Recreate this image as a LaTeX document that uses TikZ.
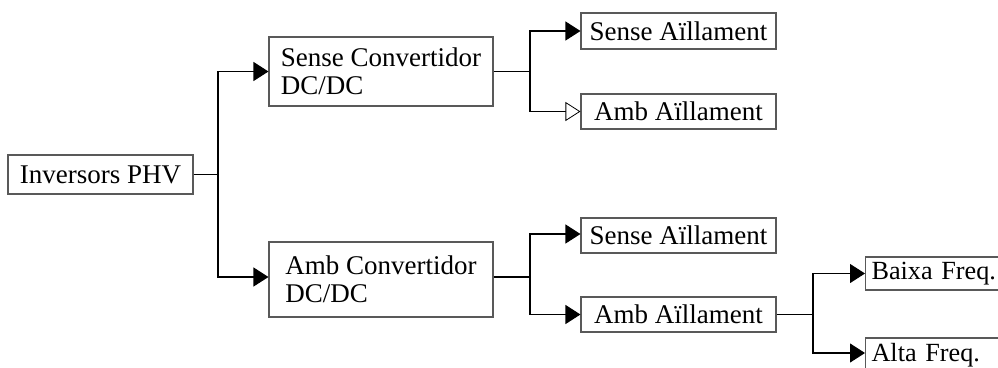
\documentclass[tikz,border=0pt]{standalone}
\usepackage{fontspec}
\setmainfont{Liberation Serif}
\usetikzlibrary{arrows.meta}
\begin{document}
\begin{tikzpicture}[x=1pt,y=-1pt,
  box/.style={draw=black!65, line width=1.1pt, rectangle, inner sep=0pt,
    font=\fontsize{27}{28}\selectfont, align=left},
  endbox/.style={box, anchor=west, inner xsep=6pt, text width=150pt,
    font=\fontsize{26.2}{28}\selectfont},
  conn/.style={draw=black, line width=1.1pt},
  arr/.style={conn, -{Triangle[length=15pt,width=19pt]}},
  oarr/.style={conn, -{Triangle[open,length=15pt,width=19pt,line width=0.8pt,fill=white]}},
]
\useasboundingbox (0,0) rectangle (998,367);
\clip (0,0) rectangle (998,367);
% boxes
\node[box, minimum width=185pt, minimum height=39pt] (inv) at (100.5,174.5) {Inversors PHV};
\node[box, minimum width=224pt, minimum height=69pt] (sc) at (381,71.5) {Sense Convertidor\\DC/DC};
\node[box, minimum width=224pt, minimum height=75pt] (ac) at (381,279.5) {Amb Convertidor\\DC/DC};
\node[box, minimum width=195pt, minimum height=36pt] (sa1) at (678.5,31) {Sense Aïllament};
\node[box, minimum width=195pt, minimum height=35pt] (aa1) at (678.5,111.5) {Amb Aïllament};
\node[box, minimum width=195pt, minimum height=35pt] (sa2) at (678.5,235.5) {Sense Aïllament};
\node[box, minimum width=195pt, minimum height=35pt] (aa2) at (678.5,314.5) {Amb Aïllament};
\node[endbox, minimum height=33pt] (bf) at (865,273.5) {Baixa Freq.};
\node[endbox, minimum height=35pt] (af) at (865,355.5) {Alta Freq.};
% branch points
\coordinate (j1) at (218,174.5);
\coordinate (j2) at (530,71.5);
\coordinate (j3) at (530,277);
\coordinate (j4) at (813,314.5);
% connectors (y axis points down, so a positive yshift moves up)
\draw[conn] (inv.east) -- (j1);
\draw[arr] (j1) |- ([yshift=2.5pt]ac.west);
\draw[arr] (j1) |- (sc.west);
\draw[conn] ([yshift=2.5pt]ac.east) -- (j3);
\draw[conn] (sc.east) -- (j2);
\draw[arr] (j2) |- (sa1.west);
\draw[oarr] (j2) |- (aa1.west);
\draw[arr] (j3) |- ([yshift=1.5pt]sa2.west);
\draw[arr] (j3) |- (aa2.west);
\draw[conn] (aa2.east) -- (j4);
\draw[arr] (j4) |- (bf.west);
\draw[arr] (j4) |- ([yshift=2.5pt]af.west);
\end{tikzpicture}
\end{document}
